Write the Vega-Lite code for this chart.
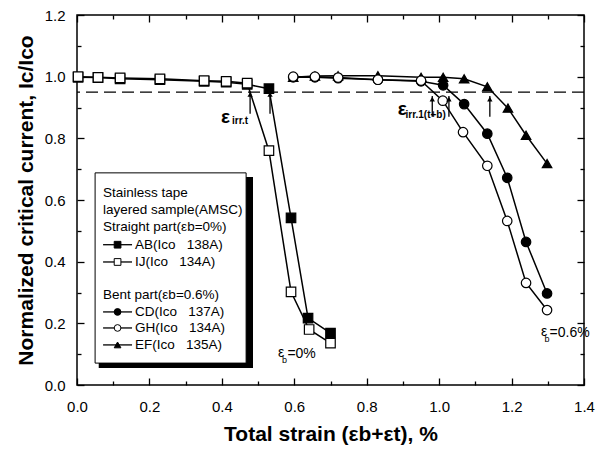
{
  "$schema": "https://vega.github.io/schema/vega-lite/v6.json",
  "width": 507,
  "height": 370,
  "autosize": {"type": "none"},
  "padding": {"left": 77, "top": 15, "right": 16, "bottom": 65},
  "background": "white",
  "config": {
    "view": {"stroke": "black", "strokeWidth": 1.5},
    "font": "Liberation Sans",
    "axis": {"domain": false, "grid": false, "tickColor": "black", "tickWidth": 1.3, "labelColor": "black", "titleColor": "black", "labelFont": "Liberation Sans", "titleFont": "Liberation Sans", "labelFontSize": 15, "titleFontSize": 21, "titleFontWeight": "bold", "labelFlush": false, "labelOverlap": false}
  },
  "datasets": {
    "curves": [
      {"s": "AB", "x": 0.003, "y": 0.998}, {"s": "AB", "x": 0.058, "y": 0.997}, {"s": "AB", "x": 0.119, "y": 0.993}, {"s": "AB", "x": 0.229, "y": 0.99}, {"s": "AB", "x": 0.351, "y": 0.985}, {"s": "AB", "x": 0.412, "y": 0.982}, {"s": "AB", "x": 0.47, "y": 0.975}, {"s": "AB", "x": 0.53, "y": 0.961}, {"s": "AB", "x": 0.591, "y": 0.542}, {"s": "AB", "x": 0.638, "y": 0.217}, {"s": "AB", "x": 0.7, "y": 0.168},
      {"s": "IJ", "x": 0.003, "y": 1.0}, {"s": "IJ", "x": 0.058, "y": 0.998}, {"s": "IJ", "x": 0.119, "y": 0.996}, {"s": "IJ", "x": 0.229, "y": 0.993}, {"s": "IJ", "x": 0.351, "y": 0.987}, {"s": "IJ", "x": 0.412, "y": 0.985}, {"s": "IJ", "x": 0.47, "y": 0.979}, {"s": "IJ", "x": 0.53, "y": 0.76}, {"s": "IJ", "x": 0.591, "y": 0.302}, {"s": "IJ", "x": 0.641, "y": 0.18}, {"s": "IJ", "x": 0.7, "y": 0.136},
      {"s": "EF", "x": 0.597, "y": 0.998}, {"s": "EF", "x": 0.657, "y": 1.002}, {"s": "EF", "x": 0.721, "y": 1.003}, {"s": "EF", "x": 0.831, "y": 1.003}, {"s": "EF", "x": 0.95, "y": 0.998}, {"s": "EF", "x": 1.011, "y": 0.998}, {"s": "EF", "x": 1.069, "y": 0.993}, {"s": "EF", "x": 1.133, "y": 0.967}, {"s": "EF", "x": 1.19, "y": 0.898}, {"s": "EF", "x": 1.24, "y": 0.81}, {"s": "EF", "x": 1.298, "y": 0.718},
      {"s": "CD", "x": 0.597, "y": 0.998}, {"s": "CD", "x": 0.657, "y": 0.998}, {"s": "CD", "x": 0.721, "y": 0.995}, {"s": "CD", "x": 0.831, "y": 0.99}, {"s": "CD", "x": 0.95, "y": 0.985}, {"s": "CD", "x": 1.011, "y": 0.972}, {"s": "CD", "x": 1.069, "y": 0.911}, {"s": "CD", "x": 1.133, "y": 0.815}, {"s": "CD", "x": 1.188, "y": 0.672}, {"s": "CD", "x": 1.24, "y": 0.464}, {"s": "CD", "x": 1.298, "y": 0.297},
      {"s": "GH", "x": 0.597, "y": 1.0}, {"s": "GH", "x": 0.657, "y": 1.0}, {"s": "GH", "x": 0.721, "y": 0.997}, {"s": "GH", "x": 0.831, "y": 0.99}, {"s": "GH", "x": 0.95, "y": 0.987}, {"s": "GH", "x": 1.01, "y": 0.922}, {"s": "GH", "x": 1.066, "y": 0.82}, {"s": "GH", "x": 1.133, "y": 0.711}, {"s": "GH", "x": 1.188, "y": 0.532}, {"s": "GH", "x": 1.24, "y": 0.331}, {"s": "GH", "x": 1.298, "y": 0.243}
    ],
    "legendRows": [
      {"s": "AB", "y": 0.455, "t": "AB(Ico\u00a0\u00a0\u00a0138A)"},
      {"s": "IJ", "y": 0.399, "t": "IJ(Ico\u00a0\u00a0\u00a0134A)"},
      {"s": "CD", "y": 0.237, "t": "CD(Ico\u00a0\u00a0\u00a0137A)"},
      {"s": "GH", "y": 0.185, "t": "GH(Ico\u00a0\u00a0\u00a0134A)"},
      {"s": "EF", "y": 0.13, "t": "EF(Ico\u00a0\u00a0\u00a0135A)"}
    ],
    "legendHead": [
      {"y": 0.623, "t": "Stainless tape"},
      {"y": 0.568, "t": "layered sample(AMSC)"},
      {"y": 0.513, "t": "Straight part(εb=0%)"},
      {"y": 0.292, "t": "Bent part(εb=0.6%)"}
    ],
    "box": [{"x": 0.05, "x2": 0.467, "y": 0.071, "y2": 0.688}],
    "shadow": [{"x": 0.06, "x2": 0.486, "y": 0.055, "y2": 0.675}],
    "arrows": [
      {"x": 0.478, "y1": 0.88, "y2": 0.952},
      {"x": 0.533, "y1": 0.88, "y2": 0.952},
      {"x": 0.981, "y1": 0.87, "y2": 0.937},
      {"x": 1.027, "y1": 0.87, "y2": 0.937},
      {"x": 1.14, "y1": 0.87, "y2": 0.937}
    ]
  },
  "layer": [
    {
      "data": {"name": "shadow"},
      "mark": {"type": "rect", "fill": "black"},
      "encoding": {
        "x": {"field": "x", "type": "quantitative", "scale": {"domain": [0, 1.4], "nice": false, "zero": false},
          "axis": {"orient": "bottom", "values": [0, 0.1, 0.2, 0.3, 0.4, 0.5, 0.6, 0.7, 0.8, 0.9, 1.0, 1.1, 1.2, 1.3, 1.4],
            "labelExpr": "round(datum.value*10)%2==0 ? format(datum.value,'.1f') : ''",
            "tickSize": {"condition": {"test": "round(datum.value*10)%2==0", "value": -7}, "value": -4},
            "labelPadding": 21, "title": "Total strain (εb+εt), %", "titlePadding": 6}},
        "x2": {"field": "x2"},
        "y": {"field": "y", "type": "quantitative", "scale": {"domain": [0, 1.2], "nice": false, "zero": false},
          "axis": {"orient": "left", "values": [0, 0.1, 0.2, 0.3, 0.4, 0.5, 0.6, 0.7, 0.8, 0.9, 1.0, 1.1, 1.2],
            "labelExpr": "round(datum.value*10)%2==0 ? format(datum.value,'.1f') : ''",
            "tickSize": {"condition": {"test": "round(datum.value*10)%2==0", "value": -7}, "value": -4},
            "labelPadding": 19, "title": "Normalized critical current, Ic/Ico", "titlePadding": 8}},
        "y2": {"field": "y2"}
      }
    },
    {
      "data": {"name": "box"},
      "mark": {"type": "rect", "fill": "white", "stroke": "black", "strokeWidth": 1},
      "encoding": {
        "x": {"field": "x", "type": "quantitative",
          "axis": {"orient": "top", "values": [0, 0.1, 0.2, 0.3, 0.4, 0.5, 0.6, 0.7, 0.8, 0.9, 1.0, 1.1, 1.2, 1.3, 1.4], "labels": false, "title": null,
            "tickSize": {"condition": {"test": "round(datum.value*10)%2==0", "value": -7}, "value": -4}}},
        "x2": {"field": "x2"},
        "y": {"field": "y", "type": "quantitative",
          "axis": {"orient": "right", "values": [0, 0.1, 0.2, 0.3, 0.4, 0.5, 0.6, 0.7, 0.8, 0.9, 1.0, 1.1, 1.2], "labels": false, "title": null,
            "tickSize": {"condition": {"test": "round(datum.value*10)%2==0", "value": -7}, "value": -4}}},
        "y2": {"field": "y2"}
      }
    },
    {
      "data": {"values": [{}]},
      "mark": {"type": "rule", "strokeDash": [12, 6], "strokeWidth": 1.2, "color": "black"},
      "encoding": {"y": {"datum": 0.95, "type": "quantitative", "axis": null}}
    },
    {
      "data": {"name": "curves"},
      "mark": {"type": "line", "color": "black", "strokeWidth": 1.5},
      "encoding": {
        "x": {"field": "x", "type": "quantitative", "axis": null},
        "y": {"field": "y", "type": "quantitative", "axis": null},
        "detail": {"field": "s"}
      }
    },
    {
      "data": {"name": "curves"},
      "mark": {"type": "point", "filled": true, "stroke": "black", "strokeWidth": 1.2, "opacity": 1},
      "encoding": {
        "x": {"field": "x", "type": "quantitative", "axis": null},
        "y": {"field": "y", "type": "quantitative", "axis": null},
        "shape": {"field": "s", "type": "nominal", "legend": null, "scale": {"domain": ["AB", "IJ", "CD", "GH", "EF"], "range": ["square", "square", "circle", "circle", "triangle-up"]}},
        "fill": {"field": "s", "type": "nominal", "legend": null, "scale": {"domain": ["AB", "IJ", "CD", "GH", "EF"], "range": ["black", "white", "black", "white", "black"]}},
        "size": {"field": "s", "type": "nominal", "legend": null, "scale": {"domain": ["AB", "IJ", "CD", "GH", "EF"], "range": [90, 90, 100, 100, 150]}}
      }
    },
    {
      "data": {"name": "arrows"},
      "mark": {"type": "rule", "color": "black", "strokeWidth": 1.3},
      "encoding": {
        "x": {"field": "x", "type": "quantitative", "axis": null},
        "y": {"field": "y1", "type": "quantitative", "axis": null},
        "y2": {"field": "y2"}
      }
    },
    {
      "data": {"name": "arrows"},
      "mark": {"type": "point", "shape": "triangle-up", "filled": true, "color": "black", "size": 28, "yOffset": 3, "opacity": 1},
      "encoding": {
        "x": {"field": "x", "type": "quantitative", "axis": null},
        "y": {"field": "y2", "type": "quantitative", "axis": null}
      }
    },
    {
      "data": {"name": "legendRows"},
      "mark": {"type": "rule", "color": "black", "strokeWidth": 1.3},
      "encoding": {
        "x": {"datum": 0.072, "type": "quantitative", "axis": null},
        "x2": {"datum": 0.152},
        "y": {"field": "y", "type": "quantitative", "axis": null}
      }
    },
    {
      "data": {"name": "legendRows"},
      "mark": {"type": "point", "filled": true, "stroke": "black", "strokeWidth": 1, "opacity": 1},
      "encoding": {
        "x": {"datum": 0.112, "type": "quantitative", "axis": null},
        "y": {"field": "y", "type": "quantitative", "axis": null},
        "shape": {"field": "s", "type": "nominal", "legend": null},
        "fill": {"field": "s", "type": "nominal", "legend": null},
        "size": {"value": 45}
      }
    },
    {
      "data": {"name": "legendRows"},
      "mark": {"type": "text", "align": "left", "baseline": "middle", "fontSize": 13.5, "color": "black"},
      "encoding": {
        "x": {"datum": 0.16, "type": "quantitative", "axis": null},
        "y": {"field": "y", "type": "quantitative", "axis": null},
        "text": {"field": "t"}
      }
    },
    {
      "data": {"name": "legendHead"},
      "mark": {"type": "text", "align": "left", "baseline": "middle", "fontSize": 13.5, "color": "black"},
      "encoding": {
        "x": {"datum": 0.072, "type": "quantitative", "axis": null},
        "y": {"field": "y", "type": "quantitative", "axis": null},
        "text": {"field": "t"}
      }
    },
    {
      "data": {"values": [{"x": 0.41, "y": 0.87, "t": "ε"}, {"x": 0.898, "y": 0.895, "t": "ε"}]},
      "mark": {"type": "text", "align": "center", "baseline": "middle", "fontSize": 19, "fontWeight": "bold", "color": "black"},
      "encoding": {
        "x": {"field": "x", "type": "quantitative", "axis": null},
        "y": {"field": "y", "type": "quantitative", "axis": null},
        "text": {"field": "t"}
      }
    },
    {
      "data": {"values": [{"x": 0.428, "y": 0.857, "t": "irr.t"}, {"x": 0.907, "y": 0.876, "t": "irr.1(t+b)"}]},
      "mark": {"type": "text", "align": "left", "baseline": "middle", "fontSize": 10, "fontWeight": "bold", "color": "black"},
      "encoding": {
        "x": {"field": "x", "type": "quantitative", "axis": null},
        "y": {"field": "y", "type": "quantitative", "axis": null},
        "text": {"field": "t"}
      }
    },
    {
      "data": {"values": [{"x": 0.564, "y": 0.105, "t": "ε"}, {"x": 1.29, "y": 0.173, "t": "ε"}]},
      "mark": {"type": "text", "align": "center", "baseline": "middle", "fontSize": 14, "color": "black"},
      "encoding": {
        "x": {"field": "x", "type": "quantitative", "axis": null},
        "y": {"field": "y", "type": "quantitative", "axis": null},
        "text": {"field": "t"}
      }
    },
    {
      "data": {"values": [{"x": 0.573, "y": 0.08, "t": "b"}, {"x": 1.298, "y": 0.149, "t": "b"}]},
      "mark": {"type": "text", "align": "center", "baseline": "middle", "fontSize": 9, "color": "black"},
      "encoding": {
        "x": {"field": "x", "type": "quantitative", "axis": null},
        "y": {"field": "y", "type": "quantitative", "axis": null},
        "text": {"field": "t"}
      }
    },
    {
      "data": {"values": [{"x": 0.581, "y": 0.101, "t": "=0%"}, {"x": 1.305, "y": 0.169, "t": "=0.6%"}]},
      "mark": {"type": "text", "align": "left", "baseline": "middle", "fontSize": 14, "color": "black"},
      "encoding": {
        "x": {"field": "x", "type": "quantitative", "axis": null},
        "y": {"field": "y", "type": "quantitative", "axis": null},
        "text": {"field": "t"}
      }
    }
  ],
  "resolve": {"axis": {"x": "independent", "y": "independent"}}
}
